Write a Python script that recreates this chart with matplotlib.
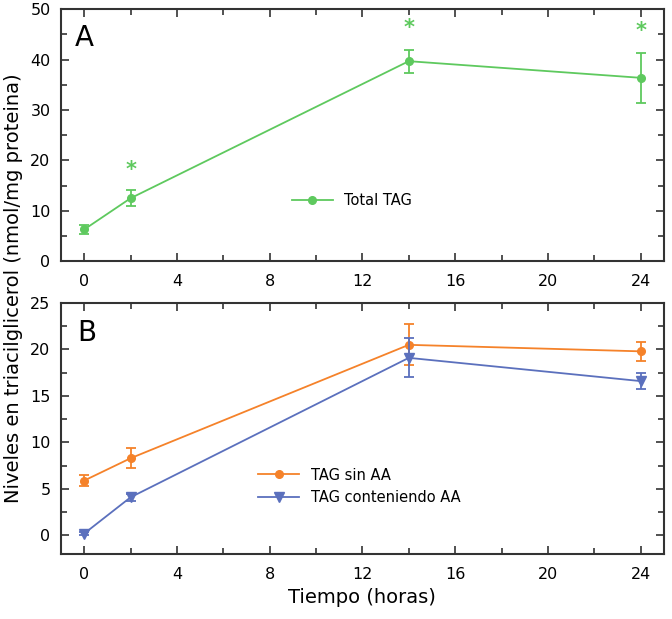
import matplotlib
matplotlib.use("Agg")
import matplotlib.pyplot as plt
from matplotlib.ticker import MultipleLocator

# datos
horas = [0, 2, 14, 24]
total_tag = [6.3, 12.5, 39.7, 36.4]
total_err = [0.9, 1.6, 2.3, 5.0]
estrella_x = [2, 14, 24]
estrella_y = [18.2, 46.3, 45.6]

sin_aa = [5.9, 8.3, 20.5, 19.8]
sin_aa_err = [0.55, 1.05, 2.2, 1.0]
con_aa = [0.2, 4.1, 19.1, 16.6]
con_aa_err = [0.2, 0.35, 2.1, 0.85]

verde = "#5ec95e"
naranja = "#f5822a"
azul = "#5b70bd"

plt.rcParams['font.family'] = ['DejaVu Sans']

fig = plt.figure(figsize=(6.72, 6.19), dpi=100)
axA = fig.add_axes([0.0908, 0.578, 0.897, 0.407])
axB = fig.add_axes([0.0908, 0.105, 0.897, 0.4055])

def estilo(ax):
    ax.set_xlim(-1, 25)
    ax.xaxis.set_major_locator(MultipleLocator(4))
    ax.xaxis.set_minor_locator(MultipleLocator(2))
    ax.tick_params(which="both", direction="in", top=True, right=True,
                   width=1.2, labelsize=11.5, color="#333333")
    ax.tick_params(which="major", length=6)
    ax.tick_params(which="minor", length=4)
    ax.tick_params(axis="x", pad=9)
    ax.tick_params(axis="y", pad=7.5)
    for s in ax.spines.values():
        s.set_linewidth(1.5)
        s.set_color("#333333")

def serie(ax, y, err, color, marker, ms, label):
    ax.errorbar(horas, y, yerr=err, color=color, fmt="none", capsize=3.5,
                elinewidth=1.3, capthick=1.3)
    ax.plot(horas, y, color=color, marker=marker, ms=ms, lw=1.3, label=label)

# panel A
serie(axA, total_tag, total_err, verde, "o", 5.5, "Total TAG")
for x, y in zip(estrella_x, estrella_y):
    axA.text(x, y, "*", color=verde, fontsize=15, ha="center", va="center",
             fontweight="bold")
axA.set_ylim(0, 50)
axA.yaxis.set_major_locator(MultipleLocator(10))
axA.yaxis.set_minor_locator(MultipleLocator(5))
estilo(axA)
axA.text(0.023, 0.885, "A", transform=axA.transAxes, fontsize=20, va="center")
axA.legend(loc="center", bbox_to_anchor=(0.483, 0.24), frameon=False,
           fontsize=10.5, handlelength=2.8)

# panel B
serie(axB, sin_aa, sin_aa_err, naranja, "o", 5.5, "TAG sin AA")
serie(axB, con_aa, con_aa_err, azul, "v", 6.5, "TAG conteniendo AA")
axB.set_ylim(-2, 25)
axB.yaxis.set_major_locator(MultipleLocator(5))
axB.yaxis.set_minor_locator(MultipleLocator(2.5))
estilo(axB)
axB.text(0.027, 0.88, "B", transform=axB.transAxes, fontsize=20, va="center")
axB.legend(loc="center", bbox_to_anchor=(0.495, 0.27), frameon=False,
           fontsize=10.5, handlelength=2.8, labelspacing=0.5)
axB.set_xlabel("Tiempo (horas)", fontsize=14, labelpad=5)

fig.text(0.02, 0.535, "Niveles en triacilglicerol (nmol/mg proteina)",
         rotation=90, fontsize=14, ha="center", va="center")

fig.savefig("out.png", dpi=100)
